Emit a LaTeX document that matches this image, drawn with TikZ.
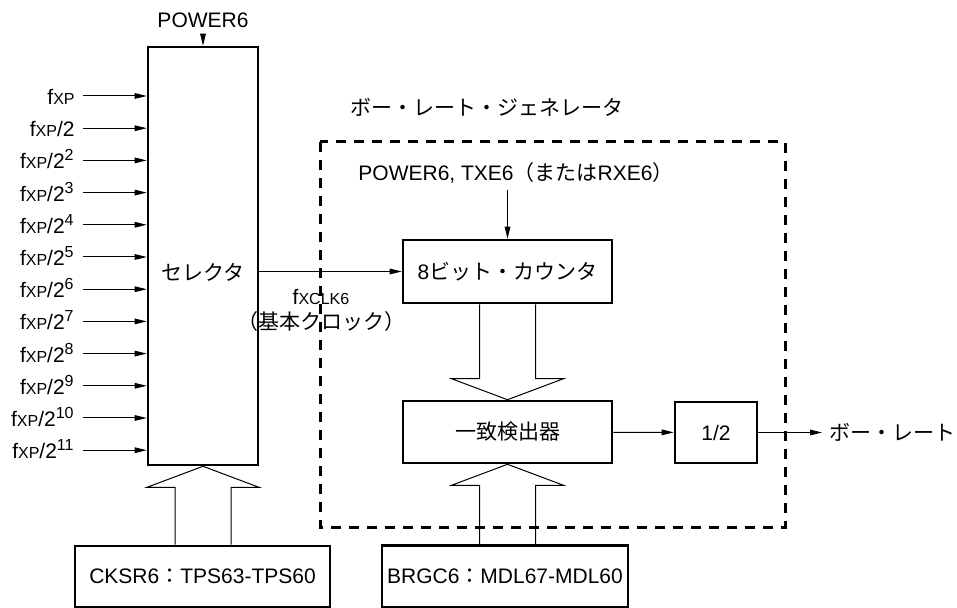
\documentclass[tikz,border=0pt]{standalone}
\usepackage{fontspec}
\setmainfont{Liberation Sans}
\newfontfamily\jp{Noto Sans CJK JP}
\usetikzlibrary{arrows.meta,calc}
\newcommand\fx{f{\fontsize{8}{9}\selectfont XP}}
\newcommand\fclk{f{\fontsize{8}{9}\selectfont XCLK6}}
\tikzset{
  brg/box/.style={draw, line width=1.3pt, inner sep=0pt},
  brg/arrow/.style={-{Triangle[length=6pt,width=2.8pt]}, line width=.5pt},
  brg/hollow/.style={line width=.5pt, line join=miter},
  brg/frame/.style={line width=1.5pt, dash pattern=on 5pt off 4pt}
}
% wide open arrow: #1 start anchor, #2 tip anchor, #3 = 1 down / -1 up
\newcommand\hollowarrow[3]{%
  \draw[brg/hollow] ($(#1 -| #2)+(-28,0)$) -- ($(#2)+(-28,-21*#3)$)
    -- ($(#2)+(-56,-21*#3)$) -- (#2) -- ($(#2)+(56,-21*#3)$)
    -- ($(#2)+(28,-21*#3)$) -- ($(#1 -| #2)+(28,0)$);}

\begin{document}
\begin{tikzpicture}[x=.5pt,y=-.5pt,font=\fontsize{10.5}{12.6}\selectfont]
  \useasboundingbox (0,0) rectangle (957,608);
  % selector and its inputs
  \node[brg/box, minimum width=55pt, minimum height=209pt] (sel) at (203,256) {};
  \node (seltxt) at (203,272) {\jp セレクタ};
  \node (pw) at (203,20) {POWER6};
  \draw[brg/arrow] (pw) -- (sel);
  \foreach \i in {0,...,11} {
    \coordinate (s\i) at (83,96+32.2*\i);
    \node[anchor=base east, inner sep=0pt] (in\i) at ($(s\i)+(-8,8.5)$)
      {\fx\ifnum\i>0/2\fi\ifnum\i>1\textsuperscript{\fontsize{8}{9}\selectfont\i}\fi};
    \draw[brg/arrow] (s\i) -- (s\i -| sel.west);
  }
  % baud rate generator
  \node (bgt) at (487,107) {\jp ボー・レート・ジェネレータ};
  \draw[brg/frame] (320,142) rectangle (785,527);
  \node (pw6) at (516,173) {POWER6, TXE6{\jp （または}RXE6{\jp ）}};
  \node[brg/box, minimum width=104.5pt, minimum height=31.5pt] (cnt) at (507.5,271.5)
    {8{\jp ビット・カウンタ}};
  \draw[brg/arrow] (pw6.south -| cnt.north) -- (cnt.north);
  \draw[brg/arrow] (sel.east |- cnt.west) -- (cnt.west);
  \node[align=center, anchor=north] (clk) at (321,282)
    {\fclk\\{\jp （基本クロック）}};
  \node[brg/box, minimum width=104.5pt, minimum height=31pt] (mat) at (507.5,432)
    {\jp 一致検出器};
  \hollowarrow{cnt.south}{mat.north}{1}
  \node[brg/box, minimum width=41pt, minimum height=30.5pt] (half) at (716,432.5) {1/2};
  \draw[brg/arrow] (mat) -- (half);
  \node[anchor=west] (out) at (822,432.5) {\jp ボー・レート};
  \draw[brg/arrow] (half) -- (out);
  % control registers
  \node[brg/box, minimum width=127.5pt, minimum height=30.5pt] (cks) at (202.5,576.5)
    {CKSR6{\jp ：}TPS63-TPS60};
  \node[brg/box, minimum width=123pt, minimum height=31pt] (bgc) at (505,576.5)
    {BRGC6{\jp ：}MDL67-MDL60};
  \hollowarrow{cks.north}{sel.south}{-1}
  \hollowarrow{bgc.north}{mat.south}{-1}
\end{tikzpicture}
\end{document}
